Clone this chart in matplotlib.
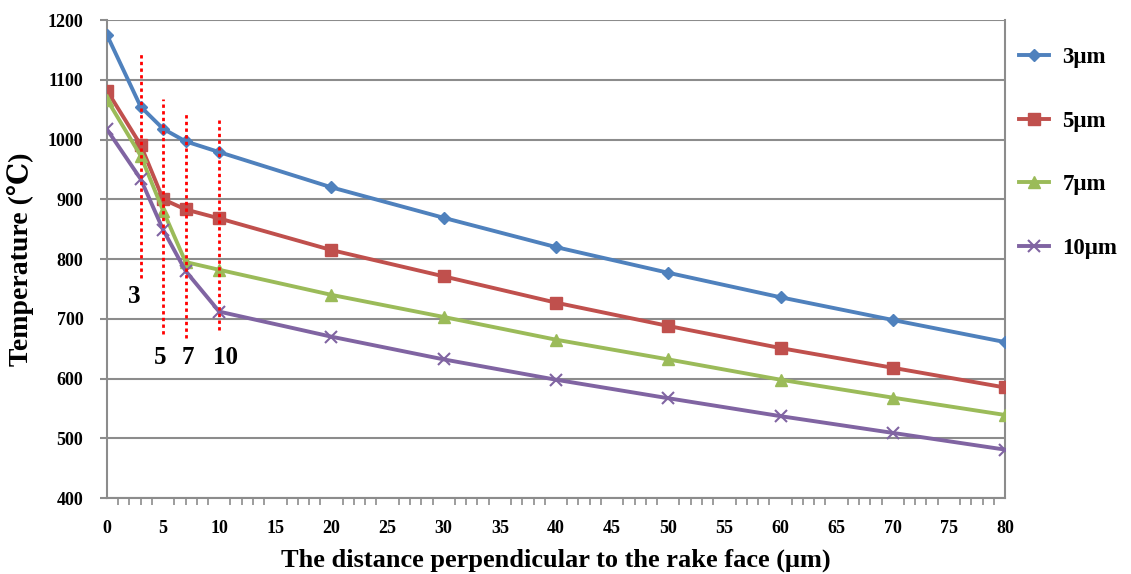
import matplotlib
matplotlib.use("Agg")
import matplotlib.pyplot as plt
from matplotlib.ticker import MultipleLocator

plt.rcParams['font.family'] = ['Liberation Serif', 'DejaVu Serif']
plt.rcParams['font.weight'] = 'bold'

distance = [0, 3, 5, 7, 10, 20, 30, 40, 50, 60, 70, 80]
temp_3um = [1175, 1055, 1018, 997, 979, 920, 869, 820, 777, 736, 698, 661]
temp_5um = [1082, 991, 900, 883, 868, 815, 771, 727, 688, 651, 618, 585]
temp_7um = [1067, 973, 881, 795, 782, 740, 703, 665, 632, 598, 568, 539]
temp_10um = [1017, 934, 849, 780, 712, 670, 632, 598, 567, 537, 509, 481]
series_labels = ['3μm', '5μm', '7μm', '10μm']

# red dotted guide lines: x position, bottom, top
guide_x = [3, 5, 7, 10]
guide_lo = [768, 675, 668, 681]
guide_hi = [1145, 1068, 1044, 1033]
guide_text = ['3', '5', '7', '10']
guide_text_x = [2.4, 4.7, 7.2, 10.6]
guide_text_y = [738, 636, 636, 636]

colors = ['#4F81BD', '#C0504D', '#9BBB59', '#8064A2']
markers = ['D', 's', '^', 'x']
msizes = [6, 8, 8, 8]

fig = plt.figure(figsize=(11.31, 5.74), dpi=100)
ax = fig.add_axes([0.0946, 0.1324, 0.7940, 0.8326])

for ys, c, m, ms, lab in zip([temp_3um, temp_5um, temp_7um, temp_10um], colors, markers, msizes, series_labels):
    ax.plot(distance, ys, color=c, marker=m, markersize=ms, linewidth=2.8,
            markeredgewidth=1.5 if m == 'x' else 1, label=lab, zorder=3)

for gx, lo, hi in zip(guide_x, guide_lo, guide_hi):
    ax.plot([gx, gx], [lo, hi], color='red', linestyle=(0, (1.2, 1.2)), linewidth=2, zorder=4)

for tx, ty, t in zip(guide_text_x, guide_text_y, guide_text):
    ax.text(tx, ty, t, fontsize=18, fontweight='bold', ha='center', va='center')

ax.set_xlim(0, 80)
ax.set_ylim(400, 1200)
ax.xaxis.set_major_locator(MultipleLocator(5))
ax.xaxis.set_minor_locator(MultipleLocator(1))
ax.yaxis.set_major_locator(MultipleLocator(100))
ax.grid(axis='y', color='#8c8c8c', linewidth=1.5)
ax.set_axisbelow(True)
for s in ax.spines.values():
    s.set_color('#8c8c8c')
    s.set_linewidth(1.5)
ax.spines['top'].set_visible(False)
ax.tick_params(axis='x', which='major', length=0, pad=16, labelsize=13)
ax.tick_params(axis='x', which='minor', length=5, color='#8c8c8c', width=1.2, direction='out')
ax.tick_params(axis='y', length=5, color='#8c8c8c', width=1.5, labelsize=13, pad=12)

ax.set_xlabel('The distance perpendicular to the rake face (μm)', fontsize=19, fontweight='bold', labelpad=8)
ax.set_ylabel('Temperature (℃)', fontsize=20, fontweight='bold', labelpad=10)

leg = ax.legend(loc='upper left', bbox_to_anchor=(1.0, 0.972), frameon=False,
                fontsize=16.5, handlelength=1.3, handletextpad=0.6, labelspacing=1.85,
                borderaxespad=0.2)

fig.savefig('out.png', dpi=100)
